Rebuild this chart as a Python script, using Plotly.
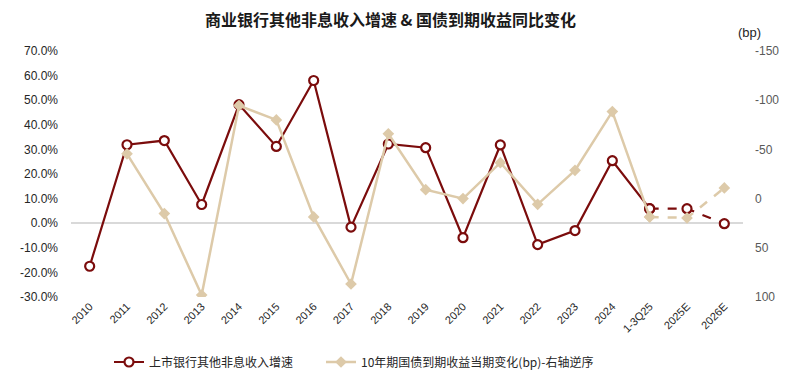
import plotly.graph_objects as go

categories = ["2010", "2011", "2012", "2013", "2014", "2015", "2016", "2017", "2018",
              "2019", "2020", "2021", "2022", "2023", "2024", "1-3Q25", "2025E", "2026E"]
# 上市银行其他非息收入增速 (%)
growth = [-17.5, 31.9, 33.6, 7.6, 48.2, 31.2, 58.0, -1.6, 32.2, 30.7, -5.9, 31.8, -8.7,
          -3.0, 25.4, 5.9, 5.9, -0.2]
# 10年期国债到期收益当期变化 (bp)
yield_chg = [None, -45.5, 15.2, 98.0, -94.5, -80.0, 18.6, 86.8, -65.9, -9.1, 0.0, -36.5, 5.8,
             -28.7, -88.4, 18.6, 19.6, -10.8]

left_ticks = [-30, -20, -10, 0, 10, 20, 30, 40, 50, 60, 70]
left_labels = ["-30.0%", "-20.0%", "-10.0%", "0.0%", "10.0%", "20.0%", "30.0%",
               "40.0%", "50.0%", "60.0%", "70.0%"]
right_ticks = [-150, -100, -50, 0, 50, 100]
right_labels = ["-150", "-100", "-50", "0", "50", "100"]

n_actual = 16  # up to 1-3Q25 solid, then dashed

RED = "#7B0C0C"
BEIGE = "#DDCAA9"
FONT = "Liberation Sans, Arial, Noto Sans CJK SC"
CJK = "Noto Sans CJK SC, Liberation Sans"

# page body has an 8px margin; figure sized to fit the window
W, H = 778, 371
L, R, T, B = 63, 43, 43, 82
PW, PH = W - L - R, H - T - B

fig = go.Figure()

fig.add_trace(go.Scatter(
    x=categories[:n_actual], y=growth[:n_actual], mode="lines+markers",
    name="上市银行其他非息收入增速",
    line=dict(color=RED, width=2.2),
    marker=dict(symbol="circle", size=9, color="white", line=dict(color=RED, width=2.2)),
    yaxis="y", legend="legend",
))
fig.add_trace(go.Scatter(
    x=categories[n_actual - 1:], y=growth[n_actual - 1:], mode="lines+markers",
    showlegend=False,
    line=dict(color=RED, width=2.2, dash="dash"),
    marker=dict(symbol="circle", size=9, color="white", line=dict(color=RED, width=2.2)),
    yaxis="y",
))
fig.add_trace(go.Scatter(
    x=categories[:n_actual], y=yield_chg[:n_actual], mode="lines+markers",
    name="10年期国债到期收益当期变化(bp)-右轴逆序",
    line=dict(color=BEIGE, width=2.5),
    marker=dict(symbol="diamond", size=9, color=BEIGE),
    yaxis="y2", legend="legend2",
))
fig.add_trace(go.Scatter(
    x=categories[n_actual - 1:], y=yield_chg[n_actual - 1:], mode="lines+markers",
    showlegend=False,
    line=dict(color=BEIGE, width=2.5, dash="dash"),
    marker=dict(symbol="diamond", size=9, color=BEIGE),
    yaxis="y2",
))

legend_common = dict(orientation="h", xref="container", xanchor="left",
                     y=1 - 354 / H, yref="container", yanchor="middle",
                     font=dict(size=12, color="#262626", family=CJK),
                     itemwidth=30, bgcolor="rgba(0,0,0,0)")

fig.update_layout(
    width=W, height=H,
    margin=dict(l=L, r=R, t=T, b=B, autoexpand=False),
    plot_bgcolor="white", paper_bgcolor="white",
    font=dict(family=FONT, size=11, color="#262626"),
    title=dict(text="<b>商业银行其他非息收入增速 & 国债到期收益同比变化</b>",
               x=382.5 / W, xanchor="center", xref="container",
               y=1 - 12.5 / H, yanchor="middle", yref="container",
               font=dict(family=CJK, size=16, color="#1a1a1a")),
    xaxis=dict(type="category", categoryorder="array", categoryarray=categories,
               range=[-0.5, 17.5], tickangle=-45, showgrid=False, zeroline=False,
               showline=False, ticks="", automargin=False,
               tickfont=dict(size=11, color="#262626")),
    yaxis=dict(range=[-30, 70], tickmode="array", tickvals=left_ticks, ticktext=left_labels,
               showgrid=False, zeroline=True, zerolinecolor="#D9D9D9", zerolinewidth=1.5,
               showline=False, ticks="", ticklabelstandoff=12, automargin=False,
               tickfont=dict(size=12, color="#262626")),
    yaxis2=dict(range=[100, -150], tickmode="array", tickvals=right_ticks, ticktext=right_labels,
                overlaying="y", side="right",
                showgrid=False, zeroline=False, showline=False, ticks="",
                ticklabelstandoff=11, automargin=False,
                tickfont=dict(size=12, color="#595959")),
    legend=dict(x=101 / W, **legend_common),
    legend2=dict(x=313 / W, **legend_common),
    showlegend=True,
    annotations=[dict(text="(bp)", xref="paper", yref="paper", x=(741 - L) / PW,
                      y=(H - B - 24) / PH,
                      xanchor="center", yanchor="middle", showarrow=False,
                      font=dict(size=13, color="#262626"))],
)

fig.write_html("out.html")
